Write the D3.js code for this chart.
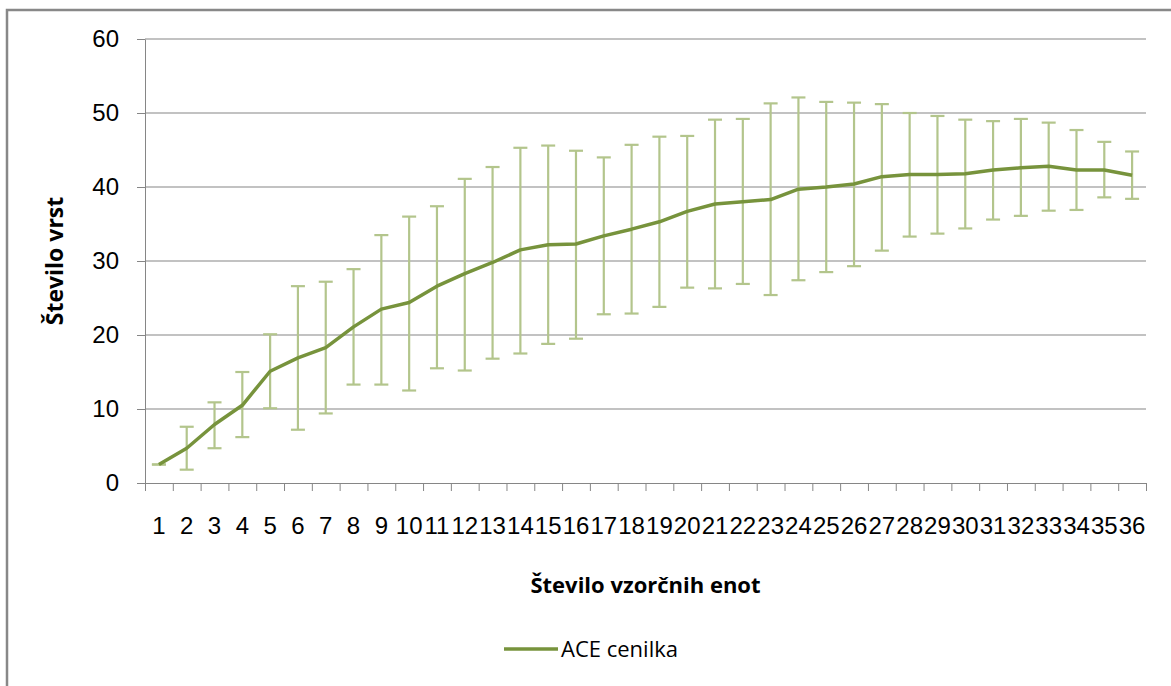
<!DOCTYPE html>
<html>
<head>
<meta charset="utf-8">
<script src="https://cdn.jsdelivr.net/npm/d3@7"></script>
<style>
  body { margin: 0; background: #fff; }
  svg { display: block; font-family: "Open Sans", sans-serif; }
  .axis path, .axis line { stroke: #868686; }
  .axis text { fill: #000; }
</style>
</head>
<body>
<svg id="chart" width="1171" height="686"></svg>
<script>
// number of sample units (categories)
const units = ["1","2","3","4","5","6","7","8","9","10","11","12","13","14","15","16","17","18",
  "19","20","21","22","23","24","25","26","27","28","29","30","31","32","33","34","35","36"];

// ACE estimator, mean
const ace = [2.5,4.7,7.9,10.5,15.1,16.9,18.3,21.1,23.5,24.4,26.6,28.3,29.8,31.5,32.2,32.3,33.4,34.3,
  35.3,36.7,37.7,38.0,38.3,39.7,40.0,40.4,41.4,41.7,41.7,41.8,42.3,42.6,42.8,42.3,42.3,41.6];

// error bar ends
const aceHigh = [2.5,7.6,10.9,15.0,20.1,26.6,27.2,28.9,33.5,36.0,37.4,41.1,42.7,45.3,45.6,44.9,44.0,45.7,
  46.8,46.9,49.1,49.2,51.3,52.1,51.5,51.4,51.2,50.0,49.6,49.1,48.9,49.2,48.7,47.7,46.1,44.8];
const aceLow = [2.5,1.8,4.7,6.2,10.1,7.2,9.4,13.3,13.3,12.5,15.5,15.2,16.8,17.5,18.8,19.5,22.8,22.9,
  23.8,26.4,26.3,26.9,25.4,27.4,28.5,29.3,31.4,33.3,33.7,34.4,35.6,36.1,36.8,36.9,38.6,38.4];

const yTicks = [0,10,20,30,40,50,60];

const plotL = 145, plotR = 1146, plotT = 39, plotB = 483;
const lineColor = "#77933C", barColor = "#B3C58C";

const svg = d3.select("#chart");

// outer chart border
svg.append("rect")
    .attr("x",7).attr("y",10)
    .attr("width",1180).attr("height",700)
    .attr("fill","none")
    .attr("stroke","#888")
    .attr("stroke-width",2.5);

const x = d3.scaleBand().domain(units).range([plotL,plotR]);
const xEdge = d3.scaleLinear().domain([0,units.length]).range([plotL,plotR]);
const y = d3.scaleLinear().domain([0,60]).range([plotB,plotT]);

// gridlines
svg.append("g")
    .selectAll("line")
    .data(yTicks.slice(1))
    .join("line")
    .attr("x1",plotL).attr("x2",plotR)
    .attr("y1",d=>y(d)).attr("y2",d=>y(d))
    .attr("stroke","#868686")
    .attr("stroke-width",1.2);

// y axis
svg.append("g")
    .attr("class","axis")
    .attr("transform","translate("+plotL+",0)")
    .call(d3.axisLeft(y).tickValues(yTicks).tickSize(8).tickSizeOuter(0).tickPadding(18))
    .call(g=>g.selectAll("text").style("font-size","24px"));

// x axis: ticks on category edges
svg.append("g")
    .attr("class","axis")
    .attr("transform","translate(0,"+plotB+")")
    .call(d3.axisBottom(xEdge).tickValues(d3.range(0,units.length+1)).tickSize(8).tickSizeOuter(0).tickFormat(""));

// x labels
svg.append("g")
    .attr("transform","translate(0,"+plotB+")")
    .call(d3.axisBottom(x).tickSize(0).tickPadding(34))
    .call(g=>g.select(".domain").remove())
    .call(g=>g.selectAll("text").style("font-size","24px").attr("fill","#000"));

// error bars
const bars = svg.append("g")
    .attr("stroke",barColor)
    .attr("stroke-width",2.2);

units.forEach((u,i)=>{
    const cx = x(u) + x.bandwidth()/2;
    bars.append("line")
        .attr("x1",cx).attr("x2",cx)
        .attr("y1",y(aceHigh[i])).attr("y2",y(aceLow[i]));
    bars.append("line")
        .attr("x1",cx-7).attr("x2",cx+7)
        .attr("y1",y(aceHigh[i])).attr("y2",y(aceHigh[i]));
    bars.append("line")
        .attr("x1",cx-7).attr("x2",cx+7)
        .attr("y1",y(aceLow[i])).attr("y2",y(aceLow[i]));
});

// main line
const line = d3.line()
    .x((d,i)=>x(units[i]) + x.bandwidth()/2)
    .y(d=>y(d));

svg.append("path")
    .datum(ace)
    .attr("d",line)
    .attr("fill","none")
    .attr("stroke",lineColor)
    .attr("stroke-width",3.5)
    .attr("stroke-linejoin","round");

// axis titles
svg.append("text")
    .attr("x",(plotL+plotR)/2)
    .attr("y",593)
    .attr("text-anchor","middle")
    .style("font-size","22px")
    .style("font-weight","bold")
    .text("Število vzorčnih enot");

svg.append("text")
    .attr("transform","translate(63,261)rotate(-90)")
    .attr("text-anchor","middle")
    .style("font-size","23px")
    .style("font-weight","bold")
    .text("Število vrst");

// legend
svg.append("line")
    .attr("x1",504).attr("x2",558)
    .attr("y1",649).attr("y2",649)
    .attr("stroke",lineColor)
    .attr("stroke-width",3.5);

svg.append("text")
    .attr("x",561)
    .attr("y",657)
    .style("font-size","22px")
    .text("ACE cenilka");
</script>
</body>
</html>
